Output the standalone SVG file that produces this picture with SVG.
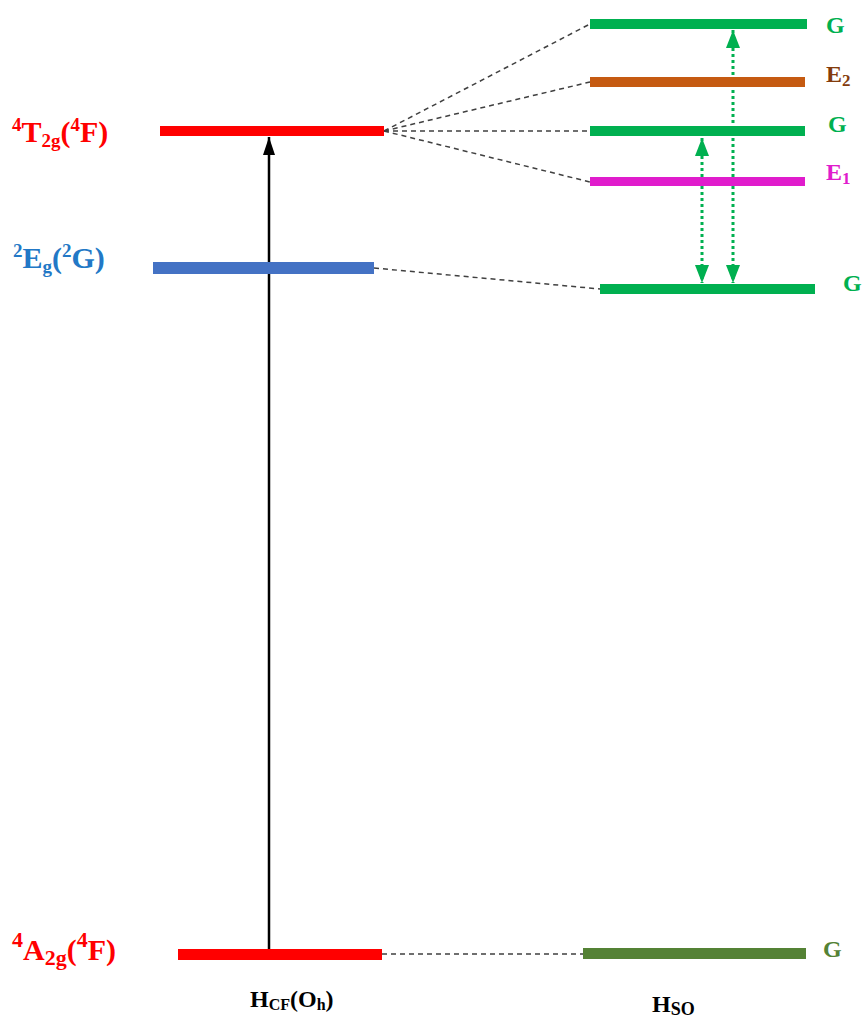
<svg xmlns="http://www.w3.org/2000/svg" width="864" height="1018" viewBox="0 0 864 1018">
<style>
.lbl{font-family:"Liberation Serif","Times New Roman",serif;font-weight:bold;font-size:30px}
.rl{font-family:"Liberation Serif","Times New Roman",serif;font-weight:bold;font-size:24px}
.ax{font-family:"Liberation Serif","Times New Roman",serif;font-weight:bold;font-size:24px;fill:#000}
.dash{stroke:#404040;stroke-width:1.5;stroke-dasharray:5 4;fill:none}
.dot{stroke:#00b050;stroke-width:3;stroke-dasharray:3 3;fill:none}
</style>
<defs>
<marker id="grn" markerUnits="userSpaceOnUse" viewBox="0 0 18 14" refX="18" refY="7" markerWidth="18" markerHeight="14" orient="auto-start-reverse">
<path d="M0 0 L18 7 L0 14 Z" fill="#00b050"/>
</marker>
<marker id="bk" markerUnits="userSpaceOnUse" viewBox="0 0 18 12" refX="18" refY="6" markerWidth="18" markerHeight="12" orient="auto">
<path d="M0 0 L18 6 L0 12 Z" fill="#000"/>
</marker>
</defs>

<g id="connectors">
<line class="dash" x1="384" y1="131" x2="590" y2="24"/>
<line class="dash" x1="384" y1="131" x2="590" y2="82"/>
<line class="dash" x1="384" y1="131" x2="590" y2="131"/>
<line class="dash" x1="384" y1="131" x2="590" y2="182"/>
<line class="dash" x1="374" y1="268" x2="600" y2="289"/>
<line class="dash" x1="382" y1="954" x2="583" y2="954"/>
<line x1="269" y1="949" x2="269" y2="137" stroke="#000" stroke-width="2.5" marker-end="url(#bk)"/>
<line class="dot" x1="702" y1="138" x2="702" y2="283" marker-start="url(#grn)" marker-end="url(#grn)"/>
<line class="dot" x1="733" y1="30" x2="733" y2="283" marker-start="url(#grn)" marker-end="url(#grn)"/>
</g>

<g id="T2g">
<rect x="160" y="126" width="224" height="10" fill="#ff0000"/>
<text class="lbl" x="12" y="142" fill="#ff0000"><tspan font-size="19" dy="-11">4</tspan><tspan dy="11">T</tspan><tspan font-size="19" dy="5">2g</tspan><tspan dy="-5">(</tspan><tspan font-size="19" dy="-11">4</tspan><tspan dy="11">F)</tspan></text>
</g>

<g id="Eg">
<rect x="153" y="262" width="221" height="12" fill="#4472c4"/>
<text class="lbl" x="13" y="268" fill="#2278c6"><tspan font-size="19" dy="-11">2</tspan><tspan dy="11">E</tspan><tspan font-size="19" dy="5">g</tspan><tspan dy="-5">(</tspan><tspan font-size="19" dy="-11">2</tspan><tspan dy="11">G)</tspan></text>
</g>

<g id="A2g">
<rect x="178" y="949" width="204" height="11" fill="#ff0000"/>
<text class="lbl" x="12" y="960" fill="#ff0000" font-size="34"><tspan font-size="22" dy="-13">4</tspan><tspan dy="13">A</tspan><tspan font-size="22" dy="5">2g</tspan><tspan dy="-5">(</tspan><tspan font-size="22" dy="-13">4</tspan><tspan dy="13">F)</tspan></text>
</g>

<g id="G4">
<rect x="590" y="19" width="217" height="10" fill="#00b050"/>
<text class="rl" x="826" y="33" fill="#00b050">G</text>
</g>

<g id="E2">
<rect x="590" y="77" width="215" height="10" fill="#c55a11"/>
<text class="rl" x="826" y="82" fill="#843c0c">E<tspan font-size="17" dy="4">2</tspan></text>
</g>

<g id="G3">
<rect x="590" y="126" width="215" height="10" fill="#00b050"/>
<text class="rl" x="828" y="132" fill="#00b050">G</text>
</g>

<g id="E1">
<rect x="590" y="177" width="215" height="9" fill="#e01ccc"/>
<text class="rl" x="826" y="180" fill="#e01ccc">E<tspan font-size="17" dy="4">1</tspan></text>
</g>

<g id="G2">
<rect x="600" y="284" width="215" height="10" fill="#00b050"/>
<text class="rl" x="843" y="291" fill="#00b050">G</text>
</g>

<g id="G1">
<rect x="583" y="948" width="223" height="11" fill="#548235"/>
<text class="rl" x="823" y="957" fill="#548235">G</text>
</g>

<g id="axisCF">
<text class="ax" x="250" y="1007">H<tspan font-size="16" dy="3">CF</tspan><tspan dy="-3">(O</tspan><tspan font-size="16" dy="3">h</tspan><tspan dy="-3">)</tspan></text>
</g>
<g id="axisSO">
<text class="ax" x="652" y="1012">H<tspan font-size="18" dy="3">SO</tspan></text>
</g>
</svg>
